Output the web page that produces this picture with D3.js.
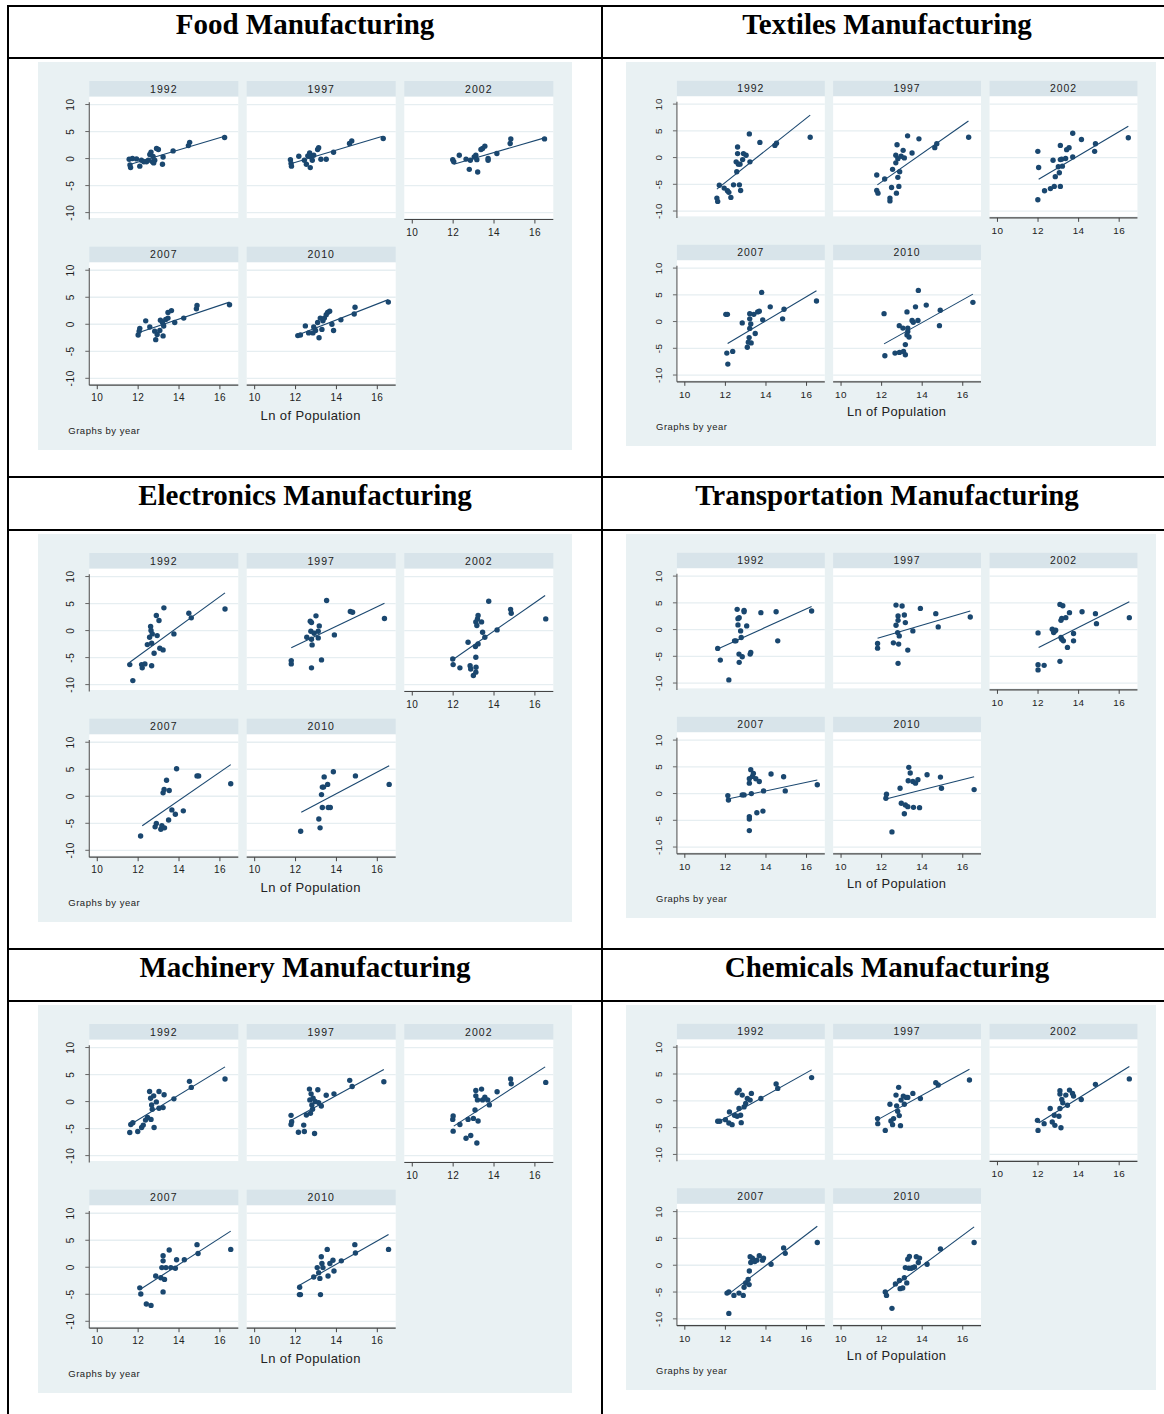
<!DOCTYPE html>
<html><head><meta charset="utf-8">
<script src="https://cdn.jsdelivr.net/npm/d3@7"></script>
<style>body{margin:0;background:#fff}</style>
</head><body><svg id="chart" width="1164" height="1414"></svg>
<script>
// Industry panels, facet years and axis ticks
const industries = ["Food Manufacturing", "Textiles Manufacturing", "Electronics Manufacturing",
  "Transportation Manufacturing", "Machinery Manufacturing", "Chemicals Manufacturing"];
const years = ["1992", "1997", "2002", "2007", "2010"];
const xTicks = [10, 12, 14, 16];
const yTicks = [-10, -5, 0, 5, 10];
const xTitle = "Ln of Population";
const byNote = "Graphs by year";

// [ln population, residual] per city, one list per year (1992, 1997, 2002, 2007, 2010)
const foodPoints = [
  [[11.56,-0.12],[11.63,-1.67],[11.6,-1.2],[11.72,0],[11.92,-0.06],[12.08,-1.4],[12.16,-0.3],[12.28,-0.6],[12.41,-0.6],[12.5,-0.3],[12.57,0.74],[12.63,1.2],[12.73,0.4],[12.81,-0.3],[12.7,-0.6],[12.9,1.85],[12.99,1.67],[12.76,-0.8],[13.19,-1.05],[13.22,0.3],[13.71,1.42],[14.46,2.4],[14.52,3.0],[16.23,3.9]],
  [[11.75,-0.2],[11.78,-0.9],[11.8,-1.4],[12.16,0.43],[12.43,-0.3],[12.53,-1.05],[12.6,0.5],[12.69,1.05],[12.76,0.3],[12.82,-0.3],[12.72,-1.67],[12.89,0.62],[13.08,1.67],[13.13,2.0],[13.24,-0.12],[13.5,-0.12],[13.86,1.17],[14.64,2.78],[14.75,3.27],[16.29,3.7]],
  [[11.98,-0.2],[12.03,-0.6],[12.3,0.6],[12.63,-0.1],[12.79,-2.0],[12.84,-0.3],[13.03,0.3],[13.11,0.6],[13.16,-0.2],[13.2,-2.5],[13.36,1.67],[13.44,1.85],[13.55,2.3],[13.71,0],[13.71,-0.3],[14.14,0.93],[14.79,2.78],[14.82,3.64],[16.47,3.64]],
  [[12.0,-2.0],[12.05,-1.27],[12.08,-0.76],[12.37,0.63],[12.57,-0.5],[12.81,-1.27],[12.86,-2.85],[12.93,-1.9],[13.06,-1.14],[13.09,0.76],[13.19,0.32],[13.22,-2.15],[13.25,-0.32],[13.35,0.89],[13.46,1.14],[13.46,2.2],[13.63,2.53],[13.79,0.32],[14.23,1.14],[14.85,2.85],[14.88,3.48],[16.47,3.6]],
  [[12.11,-2.1],[12.24,-2.0],[12.48,-0.3],[12.64,-1.6],[12.85,-1.6],[12.89,-0.5],[12.98,-1.14],[13.08,0.32],[13.15,-2.5],[13.21,1.14],[13.29,-0.95],[13.34,0.63],[13.41,1.14],[13.5,1.77],[13.57,2.2],[13.67,2.4],[13.78,0],[13.86,-1.14],[14.22,0.82],[14.87,1.9],[14.91,3.16],[16.54,4.1]]
];
const textilesPoints = [
  [[11.58,-7.57],[11.62,-8.2],[11.7,-5.17],[11.94,-5.7],[12.1,-6.2],[12.17,-6.5],[12.27,-7.45],[12.4,-5.1],[12.56,-2.65],[12.6,1.97],[12.6,0.74],[12.53,-0.8],[12.64,-1.23],[12.69,-5.1],[12.75,-6.15],[12.72,-1.23],[12.85,-0.37],[12.89,0.74],[13.02,0.43],[13.18,4.43],[13.21,-0.8],[13.7,2.83],[14.44,2.28],[14.52,2.7],[16.18,3.8]],
  [[11.76,-3.26],[11.76,-6.15],[11.82,-6.65],[12.15,-4.0],[12.41,-7.57],[12.41,-8.1],[12.49,-5.6],[12.54,-2.2],[12.7,0.43],[12.7,-0.98],[12.73,-6.65],[12.76,2.4],[12.8,-0.2],[12.8,-3.7],[12.85,-5.4],[12.89,-2.65],[12.96,0.25],[13.06,1.35],[13.12,-0.06],[13.28,4.06],[13.5,0.86],[13.84,3.5],[14.62,1.85],[14.72,2.58],[16.29,3.8]],
  [[11.99,-7.88],[11.99,1.17],[12.03,-1.85],[12.32,-6.2],[12.61,-5.8],[12.74,-0.5],[12.8,-5.4],[12.85,-3.57],[13.1,2.28],[13.1,-0.37],[13.1,-5.4],[13.0,-1.72],[13.05,-2.83],[13.16,-0.3],[13.2,-1.6],[13.36,-0.18],[13.41,1.48],[13.53,1.85],[13.71,0.12],[13.71,4.55],[14.14,3.38],[14.79,1.17],[14.83,2.58],[16.45,3.7]],
  [[12.02,1.35],[12.1,1.35],[12.07,-5.9],[12.12,-7.95],[12.36,-5.58],[12.83,-0.26],[13.13,-3.85],[13.08,-4.8],[13.2,1.47],[13.2,0.51],[13.2,-1.28],[13.25,-0.45],[13.17,-3.0],[13.27,-4.0],[13.4,1.35],[13.47,-2.24],[13.59,1.8],[13.67,1.92],[13.79,5.45],[13.84,0.32],[14.21,2.76],[14.82,0.51],[14.89,2.3],[16.49,3.85]],
  [[12.12,1.47],[12.16,-6.4],[12.66,-5.9],[12.87,-0.77],[12.88,-5.77],[13.05,-1.22],[13.08,-5.58],[13.17,-4.3],[13.17,-6.2],[13.25,1.8],[13.29,-1.22],[13.29,-1.86],[13.35,-2.88],[13.25,-2.5],[13.5,0.19],[13.56,-0.13],[13.67,2.76],[13.79,0.19],[13.81,5.83],[14.2,3.08],[14.85,-0.77],[14.89,2.11],[16.5,3.6]]
];
const electronicsPoints = [
  [[11.59,-6.3],[11.74,-9.26],[12.17,-6.3],[12.2,-6.9],[12.33,-6.17],[12.45,-2.6],[12.56,-1.23],[12.61,0.74],[12.63,0],[12.66,-2.35],[12.66,-6.5],[12.69,-0.62],[12.78,-4.2],[12.89,2.78],[12.93,-0.93],[13.02,1.85],[13.06,-3.27],[13.22,-3.58],[13.26,4.2],[13.75,-0.62],[14.48,3.2],[14.6,2.35],[16.25,4.0]],
  [[11.79,-5.56],[11.79,-6.17],[12.55,-1.23],[12.72,1.73],[12.78,1.48],[12.75,-0.12],[12.78,-1.6],[12.81,-2.65],[12.78,-6.9],[12.91,-0.5],[13.0,2.72],[13.11,-0.12],[13.11,-1.36],[13.16,0.86],[13.27,-5.43],[13.52,5.56],[13.9,-0.8],[14.68,3.52],[14.79,3.4],[16.35,2.22]],
  [[11.98,-5.25],[12.0,-6.3],[12.33,-6.9],[12.73,-2.16],[12.83,-6.5],[12.86,-7.1],[12.99,-8.33],[13.09,-2.96],[13.11,1.6],[13.11,-4.94],[13.12,-6.8],[13.11,-7.7],[13.16,0.93],[13.19,2.16],[13.22,2.78],[13.22,-2.47],[13.39,1.6],[13.44,-0.3],[13.55,-1.23],[13.74,5.43],[14.15,0.12],[14.81,3.9],[14.84,3.2],[16.53,2.16]],
  [[12.12,-7.36],[12.83,-5.66],[12.89,-5.03],[13.11,-6.1],[13.16,-5.47],[13.22,0.63],[13.27,1.26],[13.29,-5.85],[13.39,2.96],[13.49,-4.4],[13.52,1.07],[13.65,-2.52],[13.82,-3.33],[13.88,5.09],[14.21,-2.7],[14.88,3.77],[14.96,3.77],[16.53,2.33]],
  [[12.25,-6.48],[13.14,-4.2],[13.2,-5.85],[13.27,0.31],[13.31,1.7],[13.37,1.7],[13.4,3.58],[13.31,-2.08],[13.57,2.2],[13.6,-2.08],[13.7,-2.08],[13.85,4.53],[14.93,3.77],[16.58,2.2]]
];
const transportPoints = [
  [[11.62,-3.53],[11.75,-5.7],[12.17,-9.41],[12.45,-2.1],[12.52,-2.1],[12.58,3.78],[12.62,0.87],[12.62,2.04],[12.67,-4.58],[12.68,-6.13],[12.68,2.23],[12.75,-0.25],[12.78,-1.49],[12.83,-5.08],[12.92,3.59],[12.92,3.34],[13.05,0.68],[13.22,-4.58],[13.25,-4.27],[13.75,3.16],[14.5,3.34],[14.58,-2.1],[16.25,3.47]],
  [[11.8,-2.6],[11.8,-3.47],[12.58,-2.48],[12.71,4.58],[12.71,0.8],[12.79,-0.56],[12.81,2.54],[12.81,1.73],[12.81,-6.32],[12.87,-1.18],[12.84,-2.72],[13.01,4.4],[13.12,2.72],[13.17,1.3],[13.29,-3.84],[13.54,-0.25],[13.91,3.96],[14.67,2.97],[14.79,0.5],[16.37,2.35]],
  [[12.0,-0.62],[12.0,-6.56],[12.0,-7.55],[12.3,-6.69],[12.7,0.06],[12.77,-0.56],[12.83,-0.25],[12.87,-0.12],[13.08,4.7],[13.08,-5.94],[13.13,1.73],[13.13,-1.49],[13.17,2.1],[13.22,4.46],[13.17,-1.8],[13.25,-2.1],[13.37,2.23],[13.45,-3.34],[13.55,3.16],[13.75,-0.74],[13.75,-2.1],[14.17,3.34],[14.83,2.97],[14.88,1.11],[16.5,2.23]],
  [[12.12,-0.38],[12.15,-1.2],[12.83,-0.25],[12.92,-0.25],[13.18,1.95],[13.18,2.77],[13.18,-4.34],[13.18,-4.78],[13.18,-6.92],[13.25,4.47],[13.28,0],[13.33,3.2],[13.38,3.77],[13.5,2.77],[13.55,-3.58],[13.67,2.26],[13.85,-3.27],[13.88,0.5],[14.25,3.65],[14.87,3.14],[14.95,0.5],[16.53,1.64]],
  [[12.21,-0.88],[12.24,-0.13],[12.51,-7.17],[12.91,1.0],[12.97,-1.82],[13.12,-3.77],[13.17,-2.14],[13.29,-2.45],[13.31,2.39],[13.34,4.9],[13.41,3.84],[13.54,2.26],[13.57,-2.58],[13.67,1.95],[13.79,2.58],[13.87,-2.64],[14.24,3.52],[14.9,3.08],[14.95,1.0],[16.56,0.75]]
];
const machineryPoints = [
  [[11.59,-5.73],[11.64,-4.24],[11.74,-3.93],[11.98,-5.55],[12.17,-4.8],[12.25,-4.36],[12.36,-3.43],[12.46,-2.93],[12.56,1.87],[12.61,0.62],[12.63,-3.3],[12.66,-0.62],[12.69,-1.43],[12.76,1.06],[12.78,-4.8],[12.89,-0.06],[13.02,-1.25],[13.02,1.87],[13.22,-1.12],[13.27,1.25],[13.75,0.5],[14.51,3.74],[14.6,2.62],[16.25,4.17]],
  [[11.78,-2.55],[11.78,-4.24],[11.81,-3.74],[12.14,-5.67],[12.4,-4.36],[12.43,-5.55],[12.53,-2.49],[12.68,2.31],[12.7,0.31],[12.73,-2.18],[12.76,1.43],[12.8,-0.62],[12.83,-1.43],[12.86,0.62],[12.93,-5.92],[12.96,0],[13.09,2.18],[13.13,-0.19],[13.26,-0.81],[13.5,1.18],[13.88,1.43],[14.65,3.93],[14.77,2.8],[16.32,3.68]],
  [[11.98,-3.3],[12.0,-2.68],[12.0,-5.48],[12.33,-4.24],[12.63,-6.79],[12.73,-3.3],[12.86,-6.29],[12.99,-3.12],[13.07,-1.56],[13.11,2.06],[13.11,1.06],[13.16,-7.66],[13.19,0.31],[13.22,-3.61],[13.39,2.31],[13.44,0.31],[13.55,0.81],[13.69,0.31],[13.77,-0.62],[14.15,1.81],[14.81,4.17],[14.84,3.3],[16.53,3.55]],
  [[12.08,-3.81],[12.13,-4.94],[12.4,-6.81],[12.63,-7.06],[12.86,-1.63],[13.11,-1.94],[13.16,-0.06],[13.22,2.13],[13.22,1.19],[13.22,-4.56],[13.29,-2.25],[13.36,-0.06],[13.52,3.19],[13.6,-0.06],[13.82,-0.19],[13.88,1.38],[14.26,1.38],[14.88,4.19],[14.93,2.56],[16.53,3.31]],
  [[12.2,-3.69],[12.19,-5.06],[12.24,-5.06],[12.89,-1.81],[13.06,-0.06],[13.13,-1.0],[13.19,-2.06],[13.22,-5.06],[13.26,1.94],[13.29,0.69],[13.34,-0.06],[13.55,3.31],[13.59,-1.63],[13.68,0.69],[13.83,1.31],[13.88,-0.69],[14.24,1.19],[14.9,4.19],[14.93,2.63],[16.55,3.31]]
];
const chemicalsPoints = [
  [[11.62,-3.82],[11.72,-3.82],[12.0,-3.51],[12.2,-2.07],[12.17,-4.14],[12.33,-4.45],[12.45,-2.7],[12.58,-2.88],[12.58,1.5],[12.67,-1.44],[12.68,2.0],[12.75,-2.7],[12.78,-4.08],[12.83,1.07],[12.92,-1.13],[13.0,-0.5],[13.08,0.44],[13.22,0.13],[13.28,1.38],[13.75,0.44],[14.5,3.13],[14.58,2.32],[16.25,4.33]],
  [[11.8,-3.32],[11.81,-4.26],[12.18,-5.52],[12.41,-0.63],[12.46,-3.76],[12.54,-4.45],[12.59,-3.32],[12.71,1.07],[12.74,-0.94],[12.79,-1.94],[12.84,2.51],[12.87,-2.76],[12.93,-4.64],[12.96,0.13],[13.07,0.88],[13.12,-0.63],[13.21,0.63],[13.29,0.63],[13.54,1.38],[13.91,0.44],[14.67,3.39],[14.79,2.95],[16.33,3.89]],
  [[11.97,-3.64],[12.0,-5.52],[12.3,-4.26],[12.6,-1.44],[12.7,-3.95],[12.8,-2.7],[12.83,-4.58],[13.03,-2.88],[13.08,1.88],[13.08,1.25],[13.08,-1.44],[13.13,-5.02],[13.17,0.25],[13.22,-0.38],[13.37,1.07],[13.45,-0.82],[13.55,2.0],[13.7,1.38],[13.75,0.88],[14.13,0.25],[14.83,3.07],[16.5,4.08]],
  [[12.08,-5.19],[12.17,-5.0],[12.17,-8.99],[12.42,-5.63],[12.67,-5.19],[12.88,-5.63],[12.92,-4.11],[13.0,-3.29],[13.12,-2.66],[13.17,-3.61],[13.18,-1.08],[13.22,1.58],[13.25,0.51],[13.33,1.33],[13.45,0.7],[13.55,0.95],[13.67,1.77],[13.83,0.95],[13.88,1.33],[14.25,0.19],[14.87,3.23],[14.95,2.22],[16.53,4.24]],
  [[12.18,-5.0],[12.24,-5.63],[12.51,-8.04],[12.68,-3.48],[12.88,-2.85],[12.91,-4.37],[13.04,-4.24],[13.12,-2.34],[13.17,-0.44],[13.24,-3.29],[13.29,1.14],[13.34,-0.57],[13.37,1.65],[13.46,-0.57],[13.54,-0.44],[13.62,-0.32],[13.71,1.58],[13.81,0.51],[13.87,1.33],[14.24,0.19],[14.9,3.04],[16.56,4.24]]
];

// Fitted line ends per year: [x start, y start, x end, y end]
const foodFits = [[11.63,-1.05,16.23,4.14],[11.8,-0.93,16.26,4.14],[12.03,-1.05,16.47,3.83],[12.0,-1.58,16.47,4.1],[12.11,-2.0,16.54,4.56]];
const textilesFits = [[11.58,-5.9,16.18,7.94],[11.79,-5.1,16.28,6.83],[12.03,-4.06,16.45,5.85],[12.11,-4.1,16.49,5.77],[12.12,-4.17,16.5,5.13]];
const electronicsFits = [[11.59,-5.86,16.25,6.98],[11.79,-3.2,16.35,5.06],[12.03,-5.25,16.5,6.48],[12.2,-5.47,16.53,5.85],[12.28,-2.96,16.58,5.66]];
const transportFits = [[11.62,-3.65,16.25,4.33],[11.8,-1.61,16.37,3.47],[12.03,-3.34,16.5,5.2],[12.12,-1.0,16.53,2.52],[12.21,-1.0,16.56,3.14]];
const machineryFits = [[11.62,-4.24,16.25,6.42],[11.81,-3.43,16.32,5.92],[12.03,-4.55,16.5,6.42],[12.17,-3.94,16.53,6.69],[12.19,-3.31,16.55,6.06]];
const chemicalsFits = [[11.72,-3.82,16.25,5.77],[11.81,-3.51,16.33,5.89],[12.03,-4.14,16.5,6.4],[12.22,-5.19,16.53,7.28],[12.24,-5.0,16.56,7.15]];

const pointSets = [foodPoints, textilesPoints, electronicsPoints, transportPoints, machineryPoints, chemicalsPoints];
const fitSets = [foodFits, textilesFits, electronicsFits, transportFits, machineryFits, chemicalsFits];

// ---- page layout ----
const svg = d3.select("#chart");
const NAVY = "#1a476f";
const SANS = "'Liberation Sans', Arial, sans-serif";

// table cells: column centres, title baselines, graph frames
const colCenters = [305, 887];
const titleBaselines = [34, 505, 977];
const frames = [
  [38, 62, 534, 388], [626, 62, 530, 384],
  [38, 534, 534, 388], [626, 534, 530, 384],
  [38, 1005, 534, 388], [626, 1005, 530, 385]
];

// table rules
const rules = svg.append("g").attr("stroke", "#000").attr("stroke-width", 2);
[6, 58, 477, 530, 949, 1001].forEach(v =>
  rules.append("line").attr("x1", 7).attr("x2", 1164).attr("y1", v).attr("y2", v));
[8, 602].forEach(v =>
  rules.append("line").attr("x1", v).attr("x2", v).attr("y1", 5).attr("y2", 1414));

// combined graph geometry, in the frame's own units
const BASE_W = 534, BASE_H = 388;
const colX = [51.3, 208.7, 366.3], rowY = [19, 184.7];
const plotW = 149, stripH = 15.7, plotH = 121.3;
const slots = [[0, 0], [0, 1], [0, 2], [1, 0], [1, 1]];
const x = d3.scaleLinear().domain([9.61, 16.9]).range([0, plotW]);
const y = d3.scaleLinear().domain([-11, 11.45]).range([plotH, 0]);

industries.forEach((name, i) => {
  const col = i % 2, row = Math.floor(i / 2);
  svg.append("text")
    .attr("x", colCenters[col]).attr("y", titleBaselines[row])
    .attr("text-anchor", "middle")
    .style("font-family", "'Liberation Serif', 'Times New Roman', serif")
    .style("font-weight", "bold").style("font-size", "29px")
    .text(name);

  const [fx, fy, fw, fh] = frames[i];
  const g = svg.append("g")
    .attr("transform", `translate(${fx},${fy}) scale(${fw / BASE_W},${fh / BASE_H})`);
  g.append("rect").attr("width", BASE_W).attr("height", BASE_H).attr("fill", "#e9f1f3");

  years.forEach((yr, k) => {
    const [r, c] = slots[k];
    const sub = g.append("g").attr("transform", `translate(${colX[c]},${rowY[r]})`);
    sub.append("rect").attr("width", plotW).attr("height", stripH).attr("fill", "#d8e4ea");
    sub.append("text").attr("x", plotW / 2).attr("y", stripH / 2 + 3.7)
      .attr("text-anchor", "middle").style("font-family", SANS).style("font-size", "10.5px")
      .style("letter-spacing", "1px").attr("fill", "#222").text(yr);

    const p = sub.append("g").attr("transform", `translate(0,${stripH})`);
    p.append("rect").attr("width", plotW).attr("height", plotH).attr("fill", "#fff");
    p.selectAll("line.grid").data(yTicks).join("line").attr("class", "grid")
      .attr("x1", 0).attr("x2", plotW).attr("y1", d => y(d)).attr("y2", d => y(d))
      .attr("stroke", "#e6eef1").attr("stroke-width", 1.3);

    // y axis on the first column
    if (c === 0) {
      const ya = p.append("g");
      ya.append("line").attr("x1", 0).attr("x2", 0).attr("y1", 5.5).attr("y2", plotH + 1.5)
        .attr("stroke", "#666").attr("stroke-width", 1.2);
      ya.selectAll("line.tk").data(yTicks).join("line").attr("class", "tk")
        .attr("x1", -4).attr("x2", 0).attr("y1", d => y(d)).attr("y2", d => y(d))
        .attr("stroke", "#666").attr("stroke-width", 1);
      ya.selectAll("text").data(yTicks).join("text")
        .attr("transform", d => `translate(-15,${y(d)}) rotate(-90)`)
        .attr("text-anchor", "middle").style("font-family", SANS).style("font-size", "10px")
        .style("letter-spacing", "0.6px").attr("fill", "#222").text(d => d);
    }
    // x axis under the lowest plot of each column
    if (k >= 2) {
      const xa = p.append("g").attr("transform", `translate(0,${plotH + 1.5})`);
      xa.append("line").attr("x1", 0).attr("x2", plotW).attr("stroke", "#444").attr("stroke-width", 1.2);
      xa.selectAll("line.tk").data(xTicks).join("line").attr("class", "tk")
        .attr("x1", d => x(d)).attr("x2", d => x(d)).attr("y1", 0).attr("y2", 4)
        .attr("stroke", "#444").attr("stroke-width", 1);
      xa.selectAll("text").data(xTicks).join("text")
        .attr("x", d => x(d)).attr("y", 16)
        .attr("text-anchor", "middle").style("font-family", SANS).style("font-size", "10px")
        .style("letter-spacing", "0.4px").attr("fill", "#222").text(d => d);
    }

    const f = fitSets[i][k];
    p.append("line").attr("x1", x(f[0])).attr("y1", y(f[1])).attr("x2", x(f[2])).attr("y2", y(f[3]))
      .attr("stroke", NAVY).attr("stroke-width", 1.1);
    p.selectAll("circle").data(pointSets[i][k]).join("circle")
      .attr("cx", d => x(d[0])).attr("cy", d => y(d[1])).attr("r", 2.7).attr("fill", NAVY);
  });

  g.append("text").attr("x", 272.7).attr("y", 357.5).attr("text-anchor", "middle")
    .style("font-family", SANS).style("font-size", "13px").style("letter-spacing", "0.4px")
    .attr("fill", "#222").text(xTitle);
  g.append("text").attr("x", 30.3).attr("y", 372.2)
    .style("font-family", SANS).style("font-size", "9.5px").style("letter-spacing", "0.5px")
    .attr("fill", "#222").text(byNote);
});
</script>
</body></html>
